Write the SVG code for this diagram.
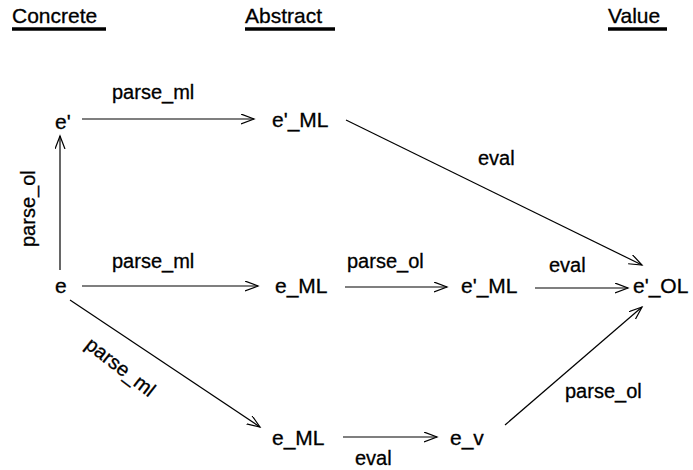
<svg xmlns="http://www.w3.org/2000/svg" width="693" height="470" viewBox="0 0 693 470">
  <style>
    text { font-family: "Liberation Sans", Arial, sans-serif; fill: #000; stroke: #000; stroke-width: 0.3; }
    .hdr { font-size: 21px; }
    .node { font-size: 21px; }
    .lbl { font-size: 20px; }
    .edge { stroke: #000; stroke-width: 1.2; fill: none; marker-end: url(#arrow); }
    .ul { stroke: #000; stroke-width: 3.5; }
  </style>
  <defs>
    <marker id="arrow" markerUnits="userSpaceOnUse" markerWidth="16" markerHeight="12" refX="13" refY="5" orient="auto">
      <path d="M0,0 L13,5 L0,10" fill="none" stroke="#000" stroke-width="1.2"/>
    </marker>
  </defs>
  <rect width="693" height="470" fill="#fff"/>

  <!-- column headings -->
  <g id="headings">
    <text class="hdr" x="12" y="23">Concrete</text>
    <line class="ul" x1="12" y1="29" x2="106" y2="29"/>
    <text class="hdr" x="245" y="23">Abstract</text>
    <line class="ul" x1="245" y1="29" x2="335" y2="29"/>
    <text class="hdr" x="608" y="23">Value</text>
    <line class="ul" x1="608" y1="29" x2="667" y2="29"/>
  </g>

  <!-- nodes -->
  <g id="n_eprime"><text class="node" x="55" y="129">e'</text></g>
  <g id="n_eprime_ml_top"><text class="node" x="272" y="127">e'_ML</text></g>
  <g id="n_e"><text class="node" x="55" y="293">e</text></g>
  <g id="n_e_ml_mid"><text class="node" x="275" y="293">e_ML</text></g>
  <g id="n_eprime_ml_mid"><text class="node" x="461" y="293">e'_ML</text></g>
  <g id="n_eprime_ol"><text class="node" x="633" y="293">e'_OL</text></g>
  <g id="n_e_ml_bot"><text class="node" x="272" y="445">e_ML</text></g>
  <g id="n_e_v"><text class="node" x="450" y="445">e_v</text></g>

  <!-- connectors -->
  <g id="connectors">
    <line class="edge" x1="82" y1="119" x2="254" y2="119"/>
    <line class="edge" x1="60" y1="270" x2="60" y2="136"/>
    <line class="edge" x1="82" y1="286" x2="258" y2="286"/>
    <line class="edge" x1="345" y1="287" x2="447" y2="287"/>
    <line class="edge" x1="535" y1="288" x2="628" y2="288"/>
    <line class="edge" x1="346" y1="120" x2="642" y2="265"/>
    <line class="edge" x1="70" y1="300" x2="260" y2="427"/>
    <line class="edge" x1="343" y1="437" x2="437" y2="437"/>
    <line class="edge" x1="505" y1="425" x2="642" y2="307"/>
  </g>

  <!-- connector labels -->
  <g id="labels">
    <text class="lbl" x="112" y="99">parse_ml</text>
    <text class="lbl" transform="translate(35 247) rotate(-90)">parse_ol</text>
    <text class="lbl" x="112" y="268">parse_ml</text>
    <text class="lbl" x="347" y="268">parse_ol</text>
    <text class="lbl" x="549" y="272">eval</text>
    <text class="lbl" x="478" y="165">eval</text>
    <text class="lbl" transform="translate(84 347) rotate(38)">parse_ml</text>
    <text class="lbl" x="355" y="465">eval</text>
    <text class="lbl" x="565" y="398">parse_ol</text>
  </g>
</svg>
